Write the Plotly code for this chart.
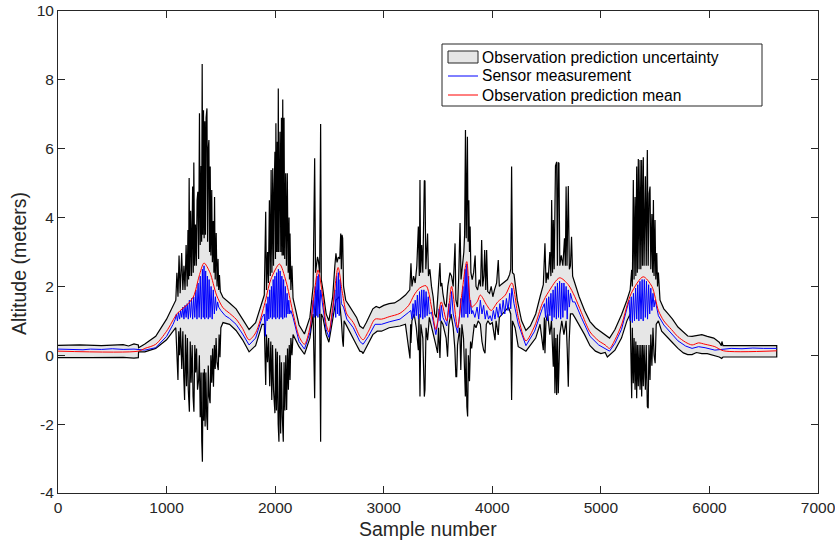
import plotly.graph_objects as go

# ---------------- data ----------------
# Observation prediction mean (red)
mean_pts = [
    (0, 0.12), (740, 0.12), (800, 0.20), (900, 0.32), (1000, 0.70), (1100, 1.22),
    (1200, 1.50), (1250, 1.72), (1300, 2.30), (1345, 2.68), (1400, 2.40), (1460, 1.75),
    (1520, 1.38), (1580, 1.22), (1640, 1.05), (1700, 0.78), (1760, 0.45), (1820, 0.65),
    (1900, 1.45), (1960, 2.20), (2040, 2.65), (2100, 2.15), (2160, 1.30), (2220, 0.55),
    (2270, 0.32), (2320, 0.80), (2360, 1.80), (2395, 2.48), (2430, 1.90), (2470, 0.90),
    (2495, 0.68), (2530, 1.40), (2580, 2.55), (2620, 1.80), (2660, 1.20), (2720, 0.95),
    (2780, 0.55), (2810, 0.45), (2860, 0.70), (2920, 1.05), (2980, 1.05), (3050, 1.12),
    (3150, 1.22), (3230, 1.45), (3280, 1.75), (3330, 1.95), (3390, 2.02), (3440, 1.40),
    (3480, 0.75), (3530, 1.55), (3580, 1.00), (3625, 2.00), (3680, 0.80), (3720, 1.80),
    (3765, 2.72), (3810, 1.40), (3860, 1.55), (3890, 1.75), (3950, 1.45), (3990, 1.30),
    (4050, 1.55), (4120, 1.75), (4180, 2.10), (4240, 1.10), (4310, 0.42), (4390, 0.85),
    (4460, 1.50), (4520, 1.85), (4620, 2.25), (4700, 2.05), (4760, 1.70), (4820, 1.25),
    (4900, 0.68), (4980, 0.42), (5040, 0.30), (5080, 0.20), (5130, 0.45), (5190, 0.88),
    (5280, 1.80), (5390, 2.28), (5470, 2.00), (5530, 1.30), (5580, 1.00), (5650, 0.75),
    (5710, 0.54), (5780, 0.38), (5840, 0.30), (5900, 0.36), (5960, 0.32), (6050, 0.25),
    (6130, 0.13), (6620, 0.13),
]

# Upper edge of the uncertainty band
upper_pts = [
    (0, 0.29), (200, 0.30), (400, 0.28), (600, 0.31), (650, 0.27), (700, 0.33), (740, 0.30),
    (742, 0.22), (800, 0.33), (900, 0.55), (1000, 1.05), (1050, 1.35), (1080, 1.55),
    (1085, 1.6), (1095, 2.4), (1105, 1.7), (1115, 2.9), (1125, 1.8), (1139, 2.97), (1150, 1.9),
    (1160, 2.6), (1170, 1.9), (1180, 3.2), (1190, 2.0), (1197, 3.64), (1203, 2.2), (1208, 5.15),
    (1214, 2.3), (1222, 4.2), (1230, 2.3), (1240, 4.9), (1246, 2.4), (1251, 5.6), (1258, 2.6),
    (1266, 3.8), (1274, 2.6), (1281, 4.5), (1288, 4.75), (1295, 2.8), (1303, 7.03), (1310, 3.2),
    (1318, 5.5), (1323, 3.3), (1328, 8.46), (1334, 3.5), (1340, 7.12), (1346, 3.4), (1352, 6.8),
    (1358, 3.5), (1364, 6.9), (1372, 7.17), (1378, 3.3), (1384, 6.0), (1390, 6.25), (1396, 3.0),
    (1402, 5.48), (1408, 2.9), (1416, 4.8), (1422, 2.7), (1430, 3.9), (1436, 2.4), (1442, 4.6),
    (1448, 2.2), (1457, 3.55), (1465, 2.0), (1474, 2.8), (1480, 1.9), (1487, 2.33), (1495, 1.85),
    (1520, 1.68), (1580, 1.52), (1640, 1.35), (1700, 1.05), (1760, 0.75), (1820, 0.95),
    (1880, 1.6), (1900, 1.75), (1913, 4.17), (1920, 1.9), (1930, 3.0), (1938, 2.1), (1947, 4.5),
    (1955, 2.3), (1963, 5.38), (1970, 2.4), (1978, 5.43), (1985, 2.6), (1991, 4.8), (1998, 5.91),
    (2003, 2.8), (2007, 6.74), (2013, 3.0), (2020, 6.2), (2025, 3.0), (2029, 7.75), (2035, 3.0),
    (2040, 6.0), (2045, 6.49), (2052, 3.0), (2058, 6.9), (2064, 2.9), (2070, 7.43), (2076, 2.9),
    (2082, 6.9), (2088, 2.8), (2097, 5.29), (2104, 2.6), (2112, 5.29), (2120, 2.4), (2128, 4.0),
    (2132, 2.2), (2137, 3.54), (2145, 1.9), (2155, 2.6), (2165, 1.65), (2220, 0.88),
    (2270, 0.62), (2320, 1.1), (2350, 2.0), (2364, 5.72), (2372, 2.4), (2380, 2.7), (2390, 2.86),
    (2398, 2.75), (2410, 2.4), (2419, 6.72), (2425, 2.2), (2440, 1.9), (2470, 1.2), (2495, 1.0),
    (2530, 1.7), (2550, 2.6), (2560, 2.96), (2570, 2.7), (2582, 2.85), (2595, 2.8), (2604, 3.54),
    (2610, 2.5), (2616, 3.5), (2622, 3.4), (2630, 2.0), (2650, 1.6), (2680, 1.45), (2700, 1.35),
    (2720, 1.25), (2750, 1.1), (2780, 0.85), (2810, 0.78), (2840, 0.95), (2870, 1.15),
    (2900, 1.35), (2930, 1.42), (2960, 1.38), (3000, 1.45), (3050, 1.5), (3100, 1.52),
    (3150, 1.62), (3200, 1.75), (3240, 1.9), (3251, 2.67), (3260, 2.0), (3275, 2.3), (3290, 2.1),
    (3305, 2.6), (3319, 3.74), (3328, 2.3), (3334, 5.09), (3340, 2.4), (3350, 3.2), (3360, 2.4),
    (3374, 5.08), (3380, 5.06), (3388, 2.5), (3396, 3.0), (3404, 3.54), (3412, 2.3), (3425, 2.5),
    (3440, 2.0), (3455, 1.7), (3470, 1.2), (3485, 1.1), (3500, 1.8), (3518, 2.68), (3525, 2.0),
    (3535, 2.1), (3545, 1.8), (3560, 1.5), (3575, 1.4), (3590, 2.0), (3610, 2.4), (3625, 2.3),
    (3640, 2.0), (3657, 3.25), (3665, 1.6), (3680, 1.4), (3690, 2.2), (3703, 3.84), (3712, 2.2),
    (3725, 2.6), (3738, 3.0), (3745, 3.5), (3753, 6.54), (3760, 3.4), (3771, 6.35), (3777, 3.3),
    (3784, 4.5), (3790, 3.0), (3796, 3.74), (3803, 2.4), (3815, 2.2), (3828, 2.4), (3842, 2.9),
    (3850, 2.0), (3865, 1.9), (3880, 2.2), (3892, 2.0), (3902, 3.35), (3912, 2.0), (3922, 2.3),
    (3930, 3.06), (3940, 1.9), (3948, 3.06), (3958, 1.85), (3975, 1.8), (3990, 2.0), (4005, 1.7),
    (4020, 1.9), (4040, 2.1), (4055, 2.77), (4065, 2.0), (4080, 2.05), (4100, 2.1), (4120, 2.15),
    (4140, 2.2), (4160, 2.35), (4170, 2.5), (4178, 5.48), (4186, 2.4), (4200, 2.35), (4230, 1.6),
    (4270, 1.0), (4310, 0.72), (4350, 0.85), (4400, 1.2), (4440, 1.7), (4470, 2.05),
    (4485, 3.25), (4495, 2.1), (4505, 2.4), (4515, 2.2), (4530, 3.0), (4540, 2.3), (4547, 4.51),
    (4555, 2.4), (4562, 3.93), (4570, 2.5), (4582, 5.5), (4593, 5.62), (4600, 2.6), (4608, 5.6),
    (4614, 5.58), (4622, 2.6), (4635, 2.9), (4650, 2.6), (4665, 3.4), (4673, 2.6), (4680, 4.9),
    (4688, 2.6), (4700, 4.92), (4710, 2.5), (4720, 2.6), (4730, 3.44), (4740, 2.3), (4760, 2.1),
    (4800, 1.7), (4850, 1.3), (4900, 0.98), (4950, 0.8), (5000, 0.68), (5040, 0.58), (5080, 0.5),
    (5130, 0.75), (5190, 1.18), (5240, 1.6), (5270, 1.9), (5284, 2.48), (5290, 2.0), (5299, 5.09),
    (5306, 2.2), (5315, 4.6), (5322, 2.3), (5330, 5.48), (5336, 2.4), (5345, 5.7), (5352, 2.5),
    (5361, 5.67), (5368, 2.5), (5376, 5.67), (5383, 2.6), (5391, 5.75), (5398, 2.6), (5410, 5.2),
    (5418, 2.6), (5428, 5.96), (5436, 2.6), (5445, 4.7), (5453, 4.9), (5460, 2.5), (5470, 4.1),
    (5477, 2.4), (5484, 4.51), (5490, 2.3), (5499, 3.93), (5506, 2.2), (5515, 2.97), (5522, 2.0),
    (5530, 2.4), (5545, 1.6), (5580, 1.35), (5620, 1.2), (5660, 1.05), (5710, 0.82),
    (5760, 0.66), (5800, 0.56), (5840, 0.55), (5880, 0.58), (5930, 0.6), (5980, 0.55),
    (6040, 0.5), (6090, 0.38), (6110, 0.28), (6115, 0.40), (6125, 0.28), (6620, 0.28),
]

# Lower edge of the uncertainty band
lower_pts = [
    (0, -0.07), (300, -0.07), (600, -0.06), (700, -0.08), (740, -0.07), (742, 0.10), (800, 0.10),
    (900, 0.20), (1000, 0.45), (1060, 0.70), (1085, 0.80), (1095, 0.2), (1105, -0.72),
    (1112, 0.7), (1120, 0.0), (1128, 0.8), (1140, -0.4), (1150, 0.7), (1158, -0.6), (1166, -1.3),
    (1174, 0.6), (1184, -0.9), (1192, 0.5), (1200, -1.0), (1210, -1.64), (1218, 0.4),
    (1226, -0.8), (1236, 0.3), (1244, -1.2), (1252, -1.64), (1260, 0.3), (1268, -0.5),
    (1276, 0.2), (1285, -1.0), (1295, -0.72), (1302, 0.0), (1310, -1.8), (1318, -0.5),
    (1324, -2.5), (1330, -3.09), (1336, -0.5), (1342, -1.9), (1348, -0.4), (1355, -2.07),
    (1362, -0.5), (1370, -1.8), (1377, -2.17), (1384, -0.3), (1392, -1.2), (1401, -1.39),
    (1408, 0.0), (1416, -0.8), (1424, 0.2), (1432, -0.91), (1440, 0.3), (1448, -0.4),
    (1456, 0.5), (1464, -0.2), (1476, -0.43), (1484, 0.6), (1492, -0.06), (1500, 0.8),
    (1520, 0.95), (1580, 0.9), (1640, 0.72), (1700, 0.45), (1760, 0.1), (1820, 0.28),
    (1880, 0.9), (1900, 0.9), (1913, -0.86), (1920, 0.6), (1930, -0.2), (1940, 0.5),
    (1950, -0.9), (1960, 0.4), (1969, -1.3), (1976, 0.3), (1985, -1.0), (1998, -1.68),
    (2005, 0.2), (2012, -1.6), (2020, 0.1), (2028, -2.0), (2035, -2.51), (2042, 0.0),
    (2051, -2.27), (2058, -0.2), (2066, -1.8), (2075, -2.51), (2082, -0.2), (2090, -1.6),
    (2098, 0.0), (2106, -1.59), (2114, 0.2), (2122, -1.0), (2130, 0.3), (2137, -0.72),
    (2145, 0.5), (2155, 0.0), (2165, 0.6), (2220, 0.25), (2270, 0.03), (2320, 0.5),
    (2350, 1.2), (2364, -1.25), (2372, 1.3), (2390, 1.9), (2410, 1.3), (2419, -2.51),
    (2425, 1.2), (2440, 1.1), (2470, 0.6), (2495, 0.38), (2530, 1.0), (2560, 1.6), (2590, 1.7),
    (2610, 1.0), (2622, 0.4), (2628, 0.25), (2635, 1.0), (2660, 0.85), (2700, 0.6), (2750, 0.3),
    (2780, 0.12), (2800, 0.1), (2810, 0.05), (2830, 0.2), (2860, 0.35), (2900, 0.6),
    (2940, 0.7), (2980, 0.7), (3050, 0.8), (3100, 0.82), (3150, 0.85), (3200, 0.9),
    (3242, -0.09), (3248, 0.9), (3251, 0.36), (3260, 1.0), (3280, 1.2), (3300, 0.8),
    (3319, 0.15), (3325, 1.2), (3334, -1.2), (3342, 0.9), (3360, 0.5), (3374, -1.2),
    (3380, -1.0), (3390, 0.8), (3404, 0.44), (3420, 1.1), (3440, 0.8), (3465, 0.5), (3480, 0.3),
    (3496, 0.07), (3505, 0.8), (3518, -0.08), (3528, 1.0), (3545, 0.9), (3560, 0.7),
    (3575, 0.5), (3588, -0.04), (3600, 0.9), (3620, 1.2), (3640, 0.8), (3655, 0.2),
    (3665, -0.62), (3672, -0.62), (3680, 0.3), (3700, 0.8), (3710, -0.43), (3720, 0.9),
    (3735, 0.5), (3745, -0.5), (3752, -1.2), (3758, 0.2), (3766, -1.5), (3773, -1.78),
    (3780, 0.0), (3790, -0.75), (3800, 0.4), (3810, 0.2), (3820, 0.5), (3835, 0.9), (3850, 0.8),
    (3870, 1.0), (3890, 0.9), (3905, 0.4), (3920, 0.15), (3933, 0.06), (3945, 0.9), (3960, 1.0),
    (3980, 0.9), (4000, 0.95), (4025, 0.44), (4035, 1.0), (4055, 0.59), (4065, 1.1),
    (4090, 1.2), (4120, 1.3), (4150, 1.4), (4170, 1.2), (4178, -1.3), (4186, 1.0), (4210, 0.8),
    (4239, 0.25), (4270, 0.2), (4310, 0.12), (4350, 0.3), (4400, 0.5), (4440, 0.9),
    (4470, 0.15), (4480, 1.1), (4485, 0.06), (4495, 1.0), (4510, 1.2), (4530, 0.6), (4545, 1.0),
    (4562, -0.33), (4570, 0.8), (4577, -1.1), (4585, 0.5), (4593, -1.15), (4600, 0.6),
    (4608, -1.1), (4614, -1.1), (4622, 0.6), (4640, 1.0), (4660, 0.6), (4680, 1.0), (4690, 0.2),
    (4700, -0.91), (4708, 0.4), (4720, 1.2), (4740, 1.2), (4760, 1.1), (4800, 0.9), (4850, 0.6),
    (4900, 0.28), (4950, 0.12), (5000, 0.05), (5040, 0.08), (5060, -0.05), (5080, 0.0),
    (5130, 0.15), (5190, 0.5), (5240, 1.0), (5270, 1.2), (5284, -1.25), (5290, 0.8),
    (5299, -0.81), (5306, 0.5), (5315, -1.0), (5322, 0.4), (5330, -1.25), (5336, 0.3),
    (5345, -0.9), (5352, 0.3), (5361, -1.0), (5368, 0.3), (5376, -1.2), (5383, 0.3),
    (5391, -0.9), (5398, 0.3), (5410, -1.0), (5418, 0.3), (5428, -1.49), (5436, -1.54),
    (5443, 0.3), (5453, -0.72), (5460, 0.6), (5470, -0.3), (5480, 0.8), (5490, 0.0),
    (5500, -0.23), (5510, 0.9), (5530, 1.0), (5560, 0.7), (5600, 0.58), (5650, 0.4),
    (5710, 0.2), (5760, 0.07), (5800, 0.02), (5840, 0.02), (5880, 0.08), (5930, 0.05),
    (5980, 0.05), (6040, 0.0), (6090, -0.05), (6113, -0.09), (6125, -0.05), (6620, -0.05),
]

# Sensor measurement (blue)
meas_pts = [
    (0, 0.18), (100, 0.17), (200, 0.18), (230, 0.16), (300, 0.18), (400, 0.17), (500, 0.19),
    (600, 0.17), (700, 0.18), (740, 0.17), (800, 0.15), (900, 0.22), (1000, 0.55), (1060, 0.9),
    (1080, 1.05), (1090, 1.2), (1100, 1.0), (1110, 1.25), (1120, 1.05), (1130, 1.3), (1140, 1.1),
    (1150, 1.4), (1160, 1.05), (1170, 1.45), (1180, 1.1), (1190, 1.5), (1200, 1.05), (1210, 1.6),
    (1220, 1.1), (1230, 1.65), (1240, 1.05), (1250, 1.7), (1260, 1.1), (1270, 1.9), (1280, 1.05),
    (1290, 2.1), (1300, 1.1), (1310, 2.3), (1320, 1.05), (1330, 2.5), (1338, 1.1), (1345, 2.6),
    (1352, 1.05), (1360, 2.45), (1368, 1.1), (1376, 2.3), (1384, 1.05), (1392, 2.2), (1400, 1.1),
    (1410, 2.0), (1420, 1.05), (1430, 1.9), (1440, 1.2), (1450, 1.7), (1460, 1.3), (1470, 1.55),
    (1480, 1.4), (1500, 1.3), (1540, 1.15), (1580, 1.07), (1640, 0.9), (1700, 0.62), (1760, 0.3),
    (1820, 0.5), (1880, 1.1), (1900, 1.2), (1910, 0.55), (1918, 1.5), (1926, 1.0), (1934, 1.7),
    (1942, 1.05), (1950, 1.9), (1958, 1.1), (1966, 2.0), (1974, 1.05), (1982, 2.2), (1990, 1.1),
    (1998, 2.3), (2006, 1.05), (2014, 2.4), (2022, 1.1), (2030, 2.5), (2038, 1.05), (2046, 2.45),
    (2054, 1.1), (2062, 2.3), (2070, 1.05), (2078, 2.2), (2086, 1.1), (2094, 2.0), (2102, 1.1),
    (2110, 1.8), (2118, 1.2), (2126, 1.6), (2134, 1.2), (2145, 1.3), (2165, 1.1), (2220, 0.4),
    (2270, 0.18), (2320, 0.65), (2350, 1.6), (2360, 1.1), (2370, 2.0), (2378, 1.15), (2386, 2.3),
    (2394, 1.1), (2402, 2.35), (2410, 1.2), (2420, 1.9), (2440, 1.4), (2470, 0.75), (2495, 0.52),
    (2530, 1.25), (2550, 1.9), (2558, 1.1), (2566, 2.3), (2574, 1.2), (2582, 2.4), (2590, 1.15),
    (2598, 2.2), (2610, 1.5), (2630, 1.4), (2660, 1.05), (2720, 0.8), (2780, 0.4), (2810, 0.32),
    (2860, 0.55), (2920, 0.9), (2980, 0.9), (3050, 0.97), (3150, 1.05), (3230, 1.25),
    (3250, 1.3), (3260, 1.05), (3270, 1.5), (3280, 1.1), (3290, 1.6), (3300, 1.15), (3310, 1.75),
    (3320, 1.05), (3330, 1.85), (3340, 1.1), (3350, 1.9), (3360, 1.05), (3370, 1.9), (3380, 1.1),
    (3390, 1.85), (3400, 1.15), (3410, 1.7), (3420, 1.2), (3440, 1.25), (3480, 0.6), (3500, 1.0),
    (3510, 1.35), (3520, 1.0), (3530, 1.45), (3545, 1.1), (3560, 1.0), (3580, 0.85), (3600, 1.5),
    (3610, 1.1), (3625, 1.85), (3640, 1.2), (3660, 0.9), (3680, 0.65), (3700, 1.2), (3710, 1.65),
    (3720, 1.1), (3730, 2.0), (3740, 1.1), (3750, 2.5), (3758, 1.2), (3766, 2.65), (3774, 1.1),
    (3782, 2.3), (3790, 1.2), (3800, 1.6), (3810, 1.2), (3820, 1.3), (3840, 1.1), (3860, 1.4),
    (3875, 1.05), (3890, 1.6), (3905, 1.2), (3920, 1.45), (3935, 1.05), (3950, 1.3),
    (3965, 1.05), (3980, 1.15), (3995, 1.0), (4010, 1.3), (4025, 1.05), (4040, 1.4),
    (4055, 1.1), (4070, 1.5), (4085, 1.15), (4100, 1.6), (4115, 1.2), (4130, 1.65), (4145, 1.3),
    (4160, 1.8), (4170, 1.35), (4180, 1.95), (4200, 1.5), (4240, 0.9), (4310, 0.28), (4390, 0.7),
    (4460, 1.35), (4480, 1.5), (4490, 1.1), (4500, 1.65), (4510, 1.0), (4520, 1.7), (4530, 1.15),
    (4540, 1.8), (4550, 1.0), (4560, 1.9), (4570, 1.1), (4580, 2.0), (4590, 1.05), (4600, 2.1),
    (4610, 1.1), (4620, 2.15), (4630, 1.05), (4640, 2.1), (4650, 1.1), (4660, 2.1), (4670, 1.3),
    (4680, 2.0), (4690, 1.05), (4700, 1.9), (4710, 1.4), (4720, 1.8), (4740, 1.55), (4760, 1.55),
    (4820, 1.1), (4900, 0.55), (4980, 0.3), (5040, 0.2), (5080, 0.12), (5130, 0.35), (5190, 0.75),
    (5260, 1.6), (5270, 1.0), (5280, 1.7), (5290, 0.95), (5300, 1.8), (5310, 1.0), (5320, 1.95),
    (5330, 1.05), (5340, 2.05), (5350, 1.0), (5360, 2.15), (5370, 1.05), (5380, 2.2), (5390, 1.0),
    (5400, 2.2), (5410, 1.1), (5420, 2.15), (5430, 1.05), (5440, 2.05), (5450, 1.2), (5460, 1.95),
    (5470, 1.3), (5480, 1.8), (5490, 1.4), (5500, 1.6), (5520, 1.3), (5530, 1.15), (5580, 0.88),
    (5650, 0.62), (5710, 0.42), (5780, 0.27), (5840, 0.2), (5900, 0.25), (5960, 0.22),
    (6050, 0.15), (6130, 0.18), (6200, 0.2), (6300, 0.19), (6400, 0.21), (6500, 0.2), (6620, 0.2),
]

series_names = ["Observation prediction uncertainty", "Sensor measurement", "Observation prediction mean"]
x_title = "Sample number"
y_title = "Altitude (meters)"
x_ticks = [0, 1000, 2000, 3000, 4000, 5000, 6000, 7000]
y_ticks = [-4, -2, 0, 2, 4, 6, 8, 10]

# ---------------- figure ----------------
ux, uy = zip(*upper_pts)
lx, ly = zip(*lower_pts)
mx, my = zip(*meas_pts)
px_, py_ = zip(*mean_pts)

band_x = list(ux) + list(lx)[::-1]
band_y = list(uy) + list(ly)[::-1]

FONT = "Liberation Sans, Arial, Helvetica, sans-serif"
AX = "#262626"

W, H = 835, 544
PL, PR, PT, PB = 58, 818, 11, 493          # plot area in pixels
PW, PH = PR - PL, PB - PT


def pxx(p):  # pixel -> paper x
    return (p - PL) / PW


def pxy(p):  # pixel -> paper y
    return (PB - p) / PH


fig = go.Figure()
fig.add_trace(go.Scatter(
    x=band_x, y=band_y, mode="lines", fill="toself", fillcolor="#e6e6e6",
    line=dict(color="black", width=1.2), name=series_names[0], showlegend=False,
))
fig.add_trace(go.Scatter(
    x=list(mx), y=list(my), mode="lines", line=dict(color="#0000ff", width=1),
    name=series_names[1], showlegend=False,
))
fig.add_trace(go.Scatter(
    x=list(px_), y=list(py_), mode="lines",
    line=dict(color="#ff0000", width=1, shape="spline", smoothing=0.8),
    name=series_names[2], showlegend=False,
))

axis_common = dict(
    showline=True, linecolor=AX, linewidth=1, mirror="ticks", ticks="inside",
    ticklen=7, tickcolor=AX, showgrid=False, zeroline=False, automargin=False,
    ticklabeloverflow="allow",
    tickfont=dict(family=FONT, size=15.5, color=AX),
)

# legend drawn as a box with sample marks and labels (MATLAB style)
box = dict(x0=442, x1=762, y0=44, y1=106)
rows = [57, 76, 95]
shapes = [
    dict(type="rect", xref="paper", yref="paper",
         x0=pxx(box["x0"]), x1=pxx(box["x1"]), y0=pxy(box["y1"]), y1=pxy(box["y0"]),
         line=dict(color=AX, width=1), fillcolor="white", layer="above"),
    dict(type="rect", xref="paper", yref="paper",
         x0=pxx(448), x1=pxx(478), y0=pxy(rows[0] + 6), y1=pxy(rows[0] - 6),
         line=dict(color=AX, width=1), fillcolor="#e6e6e6", layer="above"),
    dict(type="line", xref="paper", yref="paper",
         x0=pxx(448), x1=pxx(478), y0=pxy(rows[1]), y1=pxy(rows[1]),
         line=dict(color="#0000ff", width=1), layer="above"),
    dict(type="line", xref="paper", yref="paper",
         x0=pxx(448), x1=pxx(478), y0=pxy(rows[2]), y1=pxy(rows[2]),
         line=dict(color="#ff0000", width=1), layer="above"),
]
annotations = [
    dict(text=name, xref="paper", yref="paper", x=pxx(480), y=pxy(r),
         xanchor="left", yanchor="middle", showarrow=False,
         font=dict(family=FONT, size=15.6, color="black"))
    for name, r in zip(series_names, rows)
]
# axis titles placed where the reference shows them
annotations += [
    dict(text=x_title, xref="paper", yref="paper", x=pxx(428), y=pxy(529),
         xanchor="center", yanchor="middle", showarrow=False,
         font=dict(family=FONT, size=19.5, color=AX)),
    dict(text=y_title, xref="paper", yref="paper", x=pxx(19), y=pxy(264),
         xanchor="center", yanchor="middle", showarrow=False, textangle=-90,
         font=dict(family=FONT, size=19.5, color=AX)),
]

fig.update_layout(
    width=W, height=H,
    margin=dict(l=PL, r=W - PR, t=PT, b=H - PB, pad=0),
    paper_bgcolor="white", plot_bgcolor="white",
    font=dict(family=FONT, color=AX),
    xaxis=dict(range=[0, 7000], tickvals=x_ticks, ticktext=[str(v) for v in x_ticks],
               **axis_common),
    yaxis=dict(range=[-4, 10], tickvals=y_ticks, ticktext=[str(v) for v in y_ticks],
               **axis_common),
    shapes=shapes,
    annotations=annotations,
    showlegend=False,
)

# remove the browser's default 8px page margin so the figure sits at (0, 0)
fig.write_html(
    "out.html",
    config={"displayModeBar": False},
    post_script="document.body.style.margin='0';",
)
